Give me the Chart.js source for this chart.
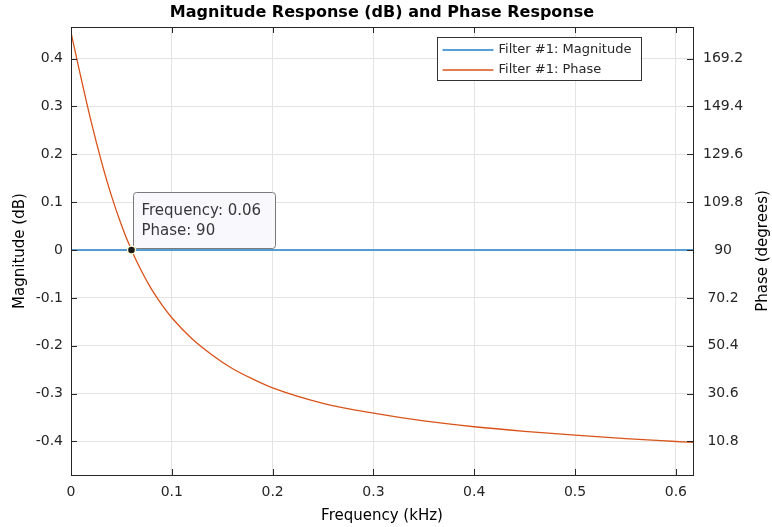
<!DOCTYPE html>
<html>
<head>
<meta charset="utf-8">
<title>Magnitude Response (dB) and Phase Response</title>
<script src="https://cdn.jsdelivr.net/npm/chart.js@4.4.1/dist/chart.umd.min.js"></script>
<style>
  html, body { margin: 0; padding: 0; background: #fff; }
</style>
</head>
<body>
<canvas id="chart" width="772" height="527"></canvas>
<script>
  // ===== DATA =====
  const freqKHz  = [0, 0.005, 0.01, 0.02, 0.03, 0.04, 0.05, 0.06, 0.07, 0.08, 0.09, 0.1, 0.12, 0.14, 0.16, 0.18, 0.2, 0.25, 0.3, 0.35, 0.4, 0.45, 0.5, 0.55, 0.6, 0.617];
  const phaseDeg = [180, 170.5, 161.1, 143.1, 126.9, 112.6, 100.4, 90, 81.2, 73.7, 67.4, 62.0, 53.3, 46.6, 41.0, 36.7, 33.0, 26.6, 22.5, 19.3, 16.9, 15.0, 13.4, 12.0, 10.8, 10.4];
  const magFreq  = [0, 0.617];
  const magDb    = [0, 0];

  const xTicks = [0, 0.1, 0.2, 0.3, 0.4, 0.5, 0.6];
  const xTickLabels = ["0", "0.1", "0.2", "0.3", "0.4", "0.5", "0.6"];
  const magTicks = [-0.4, -0.3, -0.2, -0.1, 0, 0.1, 0.2, 0.3, 0.4];
  const magTickLabels = ["-0.4", "-0.3", "-0.2", "-0.1", "0", "0.1", "0.2", "0.3", "0.4"];
  const phaseTicks = [10.8, 30.6, 50.4, 70.2, 90, 109.8, 129.6, 149.4, 169.2];
  const phaseTickLabels = ["10.8", "30.6", "50.4", "70.2", "90", "109.8", "129.6", "149.4", "169.2"];

  const tipFreq = 0.06;
  const tipPhase = 90;

  // ===== STYLE =====
  const BLUE = "#1f7fc6";
  const ORANGE = "#D95319";
  const INK = "#262626";
  const FONT = "'DejaVu Sans', 'Liberation Sans', Arial, sans-serif";

  // frame, inward ticks, data tip, legend, titles (MATLAB look)
  const matlabDecor = {
    id: "matlabDecor",
    afterDatasetsDraw(chart) {
      const { ctx, chartArea: a, scales } = chart;
      const x = scales.x, y = scales.y, y2 = scales.y2;
      ctx.save();

      // inward tick marks
      ctx.strokeStyle = INK;
      ctx.lineWidth = 1;
      ctx.beginPath();
      xTicks.forEach(v => {
        const px = Math.round(x.getPixelForValue(v)) + 0.5;
        ctx.moveTo(px, a.bottom); ctx.lineTo(px, a.bottom - 6);
        ctx.moveTo(px, a.top); ctx.lineTo(px, a.top + 6);
      });
      magTicks.forEach(v => {
        const py = Math.round(y.getPixelForValue(v)) + 0.5;
        ctx.moveTo(a.left, py); ctx.lineTo(a.left + 6, py);
      });
      phaseTicks.forEach(v => {
        const py = Math.round(y2.getPixelForValue(v)) + 0.5;
        ctx.moveTo(a.right, py); ctx.lineTo(a.right - 6, py);
      });
      ctx.stroke();

      // box
      ctx.strokeRect(Math.round(a.left) + 0.5, Math.round(a.top) + 0.5,
                     Math.round(a.width), Math.round(a.height));

      // data tip
      const px = x.getPixelForValue(tipFreq);
      const py = y2.getPixelForValue(tipPhase);
      const bx = Math.round(px) + 2.5, by = Math.round(py) - 57.5;
      ctx.beginPath();
      ctx.roundRect(bx, by, 142, 56, 3);
      ctx.fillStyle = "#f8f8fd";
      ctx.fill();
      ctx.strokeStyle = "#7a7a7a";
      ctx.stroke();
      ctx.fillStyle = "#383838";
      ctx.font = "15px " + FONT;
      ctx.textBaseline = "middle";
      ctx.textAlign = "left";
      ctx.fillText("Frequency: " + tipFreq, bx + 8, by + 19);
      ctx.fillText("Phase: " + tipPhase, bx + 8, by + 39);

      ctx.beginPath();
      ctx.arc(px, py, 4.6, 0, Math.PI * 2);
      ctx.fillStyle = "#fffbd0";
      ctx.fill();
      ctx.beginPath();
      ctx.arc(px, py, 3.3, 0, Math.PI * 2);
      ctx.fillStyle = "#1a1a1a";
      ctx.fill();

      // legend
      const lx = Math.round(a.right) - 256 + 0.5, ly = Math.round(a.top) + 10 + 0.5;
      ctx.fillStyle = "#fff";
      ctx.fillRect(lx, ly, 204, 43);
      ctx.strokeStyle = "#333";
      ctx.lineWidth = 1;
      ctx.strokeRect(lx, ly, 204, 43);
      const rows = [["Filter #1: Magnitude", BLUE], ["Filter #1: Phase", ORANGE]];
      rows.forEach(([label, color], i) => {
        const ry = Math.round(ly + 12 + i * 20);
        ctx.beginPath();
        ctx.strokeStyle = color;
        ctx.lineWidth = 1.5;
        ctx.moveTo(lx + 5, ry); ctx.lineTo(lx + 56, ry);
        ctx.stroke();
        ctx.fillStyle = INK;
        ctx.font = "13px " + FONT;
        ctx.fillText(label, lx + 61, ry);
      });

      // title
      ctx.fillStyle = "#000";
      ctx.font = "bold 16px " + FONT;
      ctx.textAlign = "center";
      ctx.fillText("Magnitude Response (dB) and Phase Response", (a.left + a.right) / 2, 13);

      // right axis title, reading bottom to top like MATLAB
      ctx.save();
      ctx.translate(763, (a.top + a.bottom) / 2);
      ctx.rotate(-Math.PI / 2);
      ctx.font = "15px " + FONT;
      ctx.fillText("Phase (degrees)", 0, 0);
      ctx.restore();

      ctx.restore();
    }
  };

  const gridColor = "#e4e4e4";

  new Chart(document.getElementById("chart"), {
    type: "line",
    data: {
      datasets: [
        {
          label: "Filter #1: Magnitude",
          data: magFreq.map((f, i) => ({ x: f, y: magDb[i] })),
          yAxisID: "y",
          borderColor: BLUE,
          borderWidth: 1.4,
          pointRadius: 0
        },
        {
          label: "Filter #1: Phase",
          data: freqKHz.map((f, i) => ({ x: f, y: phaseDeg[i] })),
          yAxisID: "y2",
          borderColor: ORANGE,
          borderWidth: 1.3,
          pointRadius: 0,
          cubicInterpolationMode: "monotone"
        }
      ]
    },
    options: {
      responsive: false,
      animation: false,
      layout: { padding: { top: 27, left: 0, right: 0, bottom: 0 } },
      plugins: { legend: { display: false }, tooltip: { enabled: false } },
      scales: {
        x: {
          type: "linear",
          min: 0,
          max: 0.617,
          afterBuildTicks: s => { s.ticks = xTicks.map(v => ({ value: v })); },
          afterFit: s => { s.height = 52; },
          grid: { color: gridColor, drawTicks: false },
          border: { display: false },
          ticks: {
            padding: 9,
            color: INK,
            font: { family: FONT, size: 14 },
            callback: (v, i) => xTickLabels[i]
          },
          title: {
            display: true,
            text: "Frequency (kHz)",
            color: "#000",
            font: { family: FONT, size: 15 },
            padding: { top: 0, bottom: 2 }
          }
        },
        y: {
          position: "left",
          min: -0.47,
          max: 0.466,
          afterBuildTicks: s => { s.ticks = magTicks.map(v => ({ value: v })); },
          afterFit: s => { s.width = 71; },
          grid: { color: gridColor, drawTicks: false },
          border: { display: false },
          ticks: {
            padding: 8,
            color: INK,
            font: { family: FONT, size: 14 },
            callback: (v, i) => magTickLabels[i]
          },
          title: {
            display: true,
            text: "Magnitude (dB)",
            color: "#000",
            font: { family: FONT, size: 15 },
            padding: { top: 11, bottom: 0 }
          }
        },
        y2: {
          position: "right",
          min: -3.06,
          max: 182.27,
          afterBuildTicks: s => { s.ticks = phaseTicks.map(v => ({ value: v })); },
          afterFit: s => { s.width = 79; },
          grid: { display: false, drawTicks: false },
          border: { display: false },
          ticks: {
            padding: 10,
            crossAlign: "center",
            color: INK,
            font: { family: FONT, size: 14 },
            callback: (v, i) => phaseTickLabels[i]
          }
        }
      }
    },
    plugins: [matlabDecor]
  });
</script>
</body>
</html>
